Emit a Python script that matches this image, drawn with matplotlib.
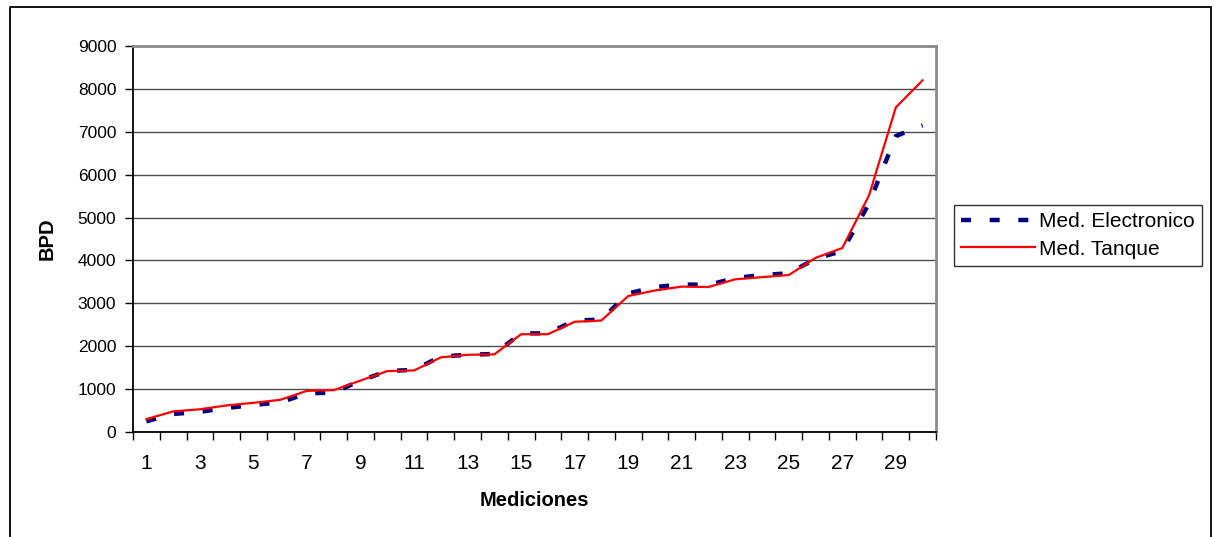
import matplotlib
matplotlib.use("Agg")
import matplotlib.pyplot as plt
from matplotlib.lines import Line2D
import numpy as np

plt.rcParams['font.family'] = ['Liberation Sans', 'DejaVu Sans']

mediciones = list(range(1, 31))
med_electronico = [250, 420, 470, 560, 630, 690, 900, 920, 1200, 1420,
                   1450, 1760, 1800, 1820, 2300, 2300, 2600, 2620, 3230, 3380,
                   3440, 3430, 3590, 3660, 3700, 4040, 4220, 5330, 6900, 7150]
med_tanque = [300, 480, 530, 620, 680, 750, 960, 975, 1200, 1420,
              1435, 1740, 1800, 1810, 2280, 2280, 2570, 2600, 3170, 3300,
              3390, 3380, 3560, 3610, 3660, 4060, 4290, 5520, 7570, 8200]
y_ticks = list(range(0, 10000, 1000))
x_labels = [str(m) for m in mediciones[::2]]

W, H = 1220, 537
fig = plt.figure(figsize=(W / 100, H / 100), dpi=100)
ax = fig.add_axes([133 / W, 1 - 432 / H, (936 - 133) / W, (432 - 46) / H])

ax.plot(mediciones, med_electronico, color='#000080', lw=3.2,
        dashes=(2.25, 4.2), solid_capstyle='butt', dash_capstyle='butt',
        label='Med. Electronico', zorder=3)
ax.plot(mediciones, med_tanque, color='#ff0000', lw=1.6,
        label='Med. Tanque', zorder=4)

ax.set_xlim(0.5, 30.5)
ax.set_ylim(0, 9000)
ax.set_yticks(y_ticks)
ax.set_yticklabels([str(v) for v in y_ticks])
ax.set_xticks(np.arange(0.5, 31, 1))
ax.set_xticklabels([])
ax.set_xticks(mediciones[::2], minor=True)
ax.set_xticklabels(x_labels, minor=True,
                   family=['Liberation Sans Narrow', 'Liberation Sans'])

ax.tick_params(axis='y', direction='out', length=6, width=1, labelsize=12.5,
               pad=6, color='black')
ax.tick_params(axis='x', which='major', direction='out', length=6, width=1,
               color='black')
ax.tick_params(axis='x', which='minor', length=0, labelsize=15, pad=16)

ax.grid(axis='y', color='#4d4d4d', lw=1)
ax.set_axisbelow(True)

for side in ('left', 'bottom'):
    ax.spines[side].set_color('black')
    ax.spines[side].set_linewidth(1.3)
for side in ('top', 'right'):
    ax.spines[side].set_color('#8c8c8c')
    ax.spines[side].set_linewidth(2)

ax.set_ylabel('BPD', fontsize=14.5, fontweight='bold')
ax.yaxis.set_label_coords(-86 / (936 - 133), 0.5)
ax.yaxis.label.set_va('center')
ax.set_xlabel('Mediciones', fontsize=14.5, fontweight='bold')
ax.xaxis.set_label_coords(0.5, -(500 - 432) / (432 - 46))
ax.xaxis.label.set_va('center')

leg = ax.legend(loc='upper left', bbox_to_anchor=(954 / W, 1 - 205 / H),
                bbox_transform=fig.transFigure, fontsize=15,
                frameon=True, fancybox=False, borderpad=0.35,
                handlelength=3.55, handletextpad=0.2, labelspacing=0.4,
                borderaxespad=0)
leg.get_frame().set_edgecolor('black')
leg.get_frame().set_linewidth(1)

# outer chart frame (left, top, right edges)
fx = [10 / W, 10 / W, 1211 / W, 1211 / W]
fy = [0, 1 - 7 / H, 1 - 7 / H, 0]
fig.add_artist(Line2D(fx, fy, transform=fig.transFigure, color='black',
                      lw=1.3))

fig.savefig('out.png', dpi=100)
